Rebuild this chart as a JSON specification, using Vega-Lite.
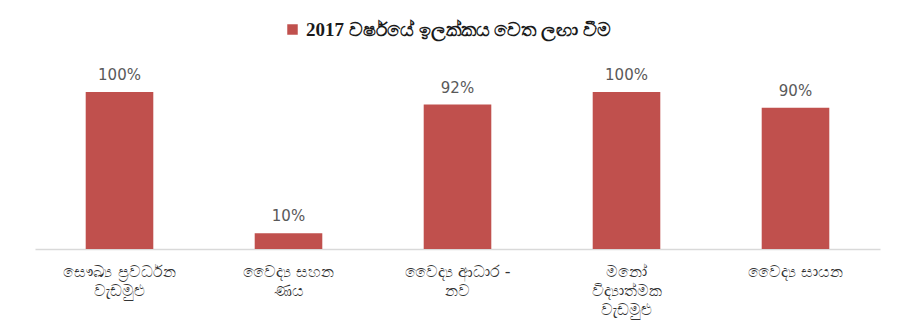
{
  "$schema": "https://vega.github.io/schema/vega-lite/v6.json",
  "autosize": {"type": "none"},
  "padding": {"left": 35, "top": 92, "right": 19, "bottom": 83},
  "width": 845,
  "height": 157,
  "background": "white",
  "config": {"view": {"stroke": null}},
  "data": {
    "values": [
      {"cat": "සෞඛ්‍ය ප්‍රවර්ධන|වැඩමුළු", "value": 100, "label": "100%", "series": "2017 වර්ෂයේ ඉලක්කය වෙත ලඟා වීම"},
      {"cat": "වෛද්‍ය සහන|ණය", "value": 10, "label": "10%", "series": "2017 වර්ෂයේ ඉලක්කය වෙත ලඟා වීම"},
      {"cat": "වෛද්‍ය ආධාර -|නව", "value": 92, "label": "92%", "series": "2017 වර්ෂයේ ඉලක්කය වෙත ලඟා වීම"},
      {"cat": "මනෝ|විද්‍යාත්මක|වැඩමුළු", "value": 100, "label": "100%", "series": "2017 වර්ෂයේ ඉලක්කය වෙත ලඟා වීම"},
      {"cat": "වෛද්‍ය සායන", "value": 90, "label": "90%", "series": "2017 වර්ෂයේ ඉලක්කය වෙත ලඟා වීම"}
    ]
  },
  "encoding": {
    "x": {
      "field": "cat",
      "type": "nominal",
      "sort": null,
      "scale": {"paddingInner": 0.6, "paddingOuter": 0.3},
      "axis": {
        "title": null,
        "labelAngle": 0,
        "labelExpr": "split(datum.label, '|')",
        "labelLineHeight": 19,
        "labelFontSize": 16,
        "labelFont": "DejaVu Sans",
        "labelColor": "#333333",
        "labelPadding": 14,
        "labelLimit": 200,
        "ticks": false,
        "domainColor": "#D9D9D9",
        "domainWidth": 1.5
      }
    },
    "y": {
      "field": "value",
      "type": "quantitative",
      "scale": {"domain": [0, 100]},
      "axis": null
    }
  },
  "layer": [
    {
      "mark": {"type": "bar"},
      "encoding": {
        "color": {
          "field": "series",
          "type": "nominal",
          "scale": {"range": ["#C0504D"]},
          "legend": {
            "title": null,
            "orient": "none",
            "legendX": 248,
            "legendY": -72,
            "symbolType": "square",
            "symbolSize": 110,
            "labelFont": "Liberation Serif",
            "labelFontWeight": "bold",
            "labelFontSize": 19,
            "labelColor": "#1a1a1a",
            "labelLimit": 600
          }
        }
      }
    },
    {
      "mark": {"type": "text", "dy": -9, "baseline": "bottom", "fontSize": 15, "font": "DejaVu Sans", "color": "#595959"},
      "encoding": {"text": {"field": "label"}}
    }
  ]
}
